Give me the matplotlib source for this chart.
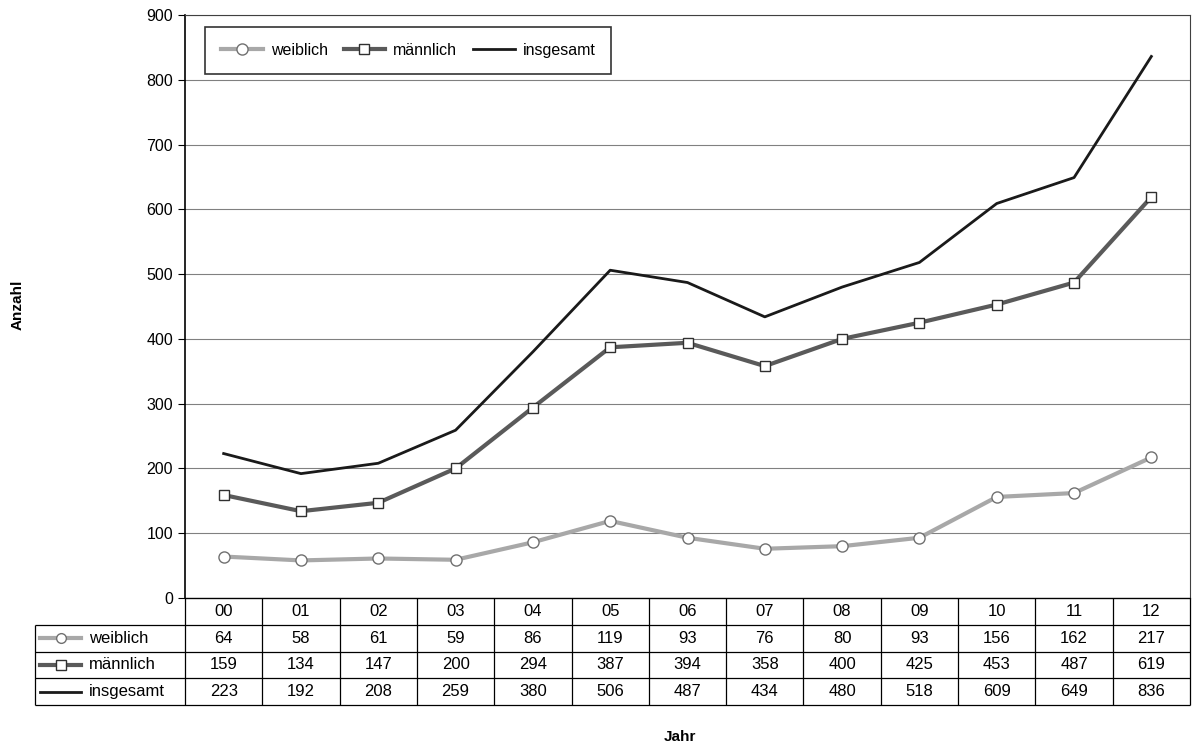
import matplotlib.pyplot as plt

jahre = ["00", "01", "02", "03", "04", "05", "06", "07", "08", "09", "10", "11", "12"]
weiblich = [64, 58, 61, 59, 86, 119, 93, 76, 80, 93, 156, 162, 217]
maennlich = [159, 134, 147, 200, 294, 387, 394, 358, 400, 425, 453, 487, 619]
insgesamt = [223, 192, 208, 259, 380, 506, 487, 434, 480, 518, 609, 649, 836]
namen = ["weiblich", "männlich", "insgesamt"]

plt.rcParams['font.family'] = ['Liberation Sans', 'DejaVu Sans']

fig = plt.figure(figsize=(11.95, 7.49), dpi=100)
ax = fig.add_axes([185/1195, 151/749, 1005/1195, 583/749])

x = list(range(len(jahre)))
c_w, c_m, c_i = "#a8a8a8", "#5a5a5a", "#1a1a1a"
stile = [dict(color=c_w, lw=3, marker="o", ms=8, mfc="white", mec="#707070", mew=1),
         dict(color=c_m, lw=3, marker="s", ms=7, mfc="white", mec="#303030", mew=1),
         dict(color=c_i, lw=2)]
serien = [weiblich, maennlich, insgesamt]
for werte, name, st in zip(serien, namen, stile):
    ax.plot(x, werte, label=name, **st)

ax.set_xlim(-0.5, len(jahre) - 0.5)
ax.set_ylim(0, 900)
ax.set_yticks(range(0, 901, 100))
ax.yaxis.grid(True, color="#808080", lw=0.8)
ax.set_axisbelow(True)
ax.set_xticks([])
for s in ["top", "right"]:
    ax.spines[s].set_color("#404040")
ax.spines["left"].set_linewidth(1.2)
ax.tick_params(axis="y", labelsize=11.5, length=5)
fig.text(18/1195, 1 - 305/749, "Anzahl", rotation=90, ha="center", va="center",
         fontsize=11, fontweight="bold")

leg = ax.legend(loc="upper left", ncol=3, bbox_to_anchor=(0.012, 0.993), fontsize=11.5,
                frameon=True, fancybox=False, edgecolor="black", handlelength=2.6,
                handletextpad=0.5, columnspacing=1.0, borderpad=1.0)
leg.get_frame().set_linewidth(1.2)

# Datentabelle unter dem Diagramm
n = len(jahre)
lab = 150 / (1005 / n)          # Breite der Beschriftungsspalte in Spalteneinheiten
links = -0.5 - lab
tax = fig.add_axes([35/1195, 44/749, 1155/1195, 107/749])
tax.set_xlim(links, n - 0.5)
tax.set_ylim(4, 0)
tax.axis("off")
lk = dict(color="black", lw=0.9, clip_on=False)
tax.hlines(0, -0.5, n - 0.5, **lk)
tax.hlines([1, 2, 3, 4], links, n - 0.5, **lk)
tax.vlines([i - 0.5 for i in range(n + 1)], 0, 4, **lk)
tax.vlines(links, 1, 4, **lk)
for i, j in enumerate(jahre):
    tax.text(i, 0.5, j, ha="center", va="center", fontsize=12)
for r, (werte, name, st) in enumerate(zip(serien, namen, stile)):
    y = r + 1.5
    for i, v in enumerate(werte):
        tax.text(i, y, str(v), ha="center", va="center", fontsize=12)
    st2 = dict(st)
    if "ms" in st2:
        st2["ms"] = 7
    tax.plot([links + 0.06, links + 0.6], [y, y], clip_on=False, markevery=[], **st2)
    if "marker" in st2:
        tax.plot([links + 0.33], [y], clip_on=False, **st2)
    tax.text(links + 0.7, y, name, ha="left", va="center", fontsize=12)

fig.text(680/1195, 1 - 737/749, "Jahr", ha="center", va="center", fontsize=11, fontweight="bold")

fig.savefig("out.png", dpi=100)
